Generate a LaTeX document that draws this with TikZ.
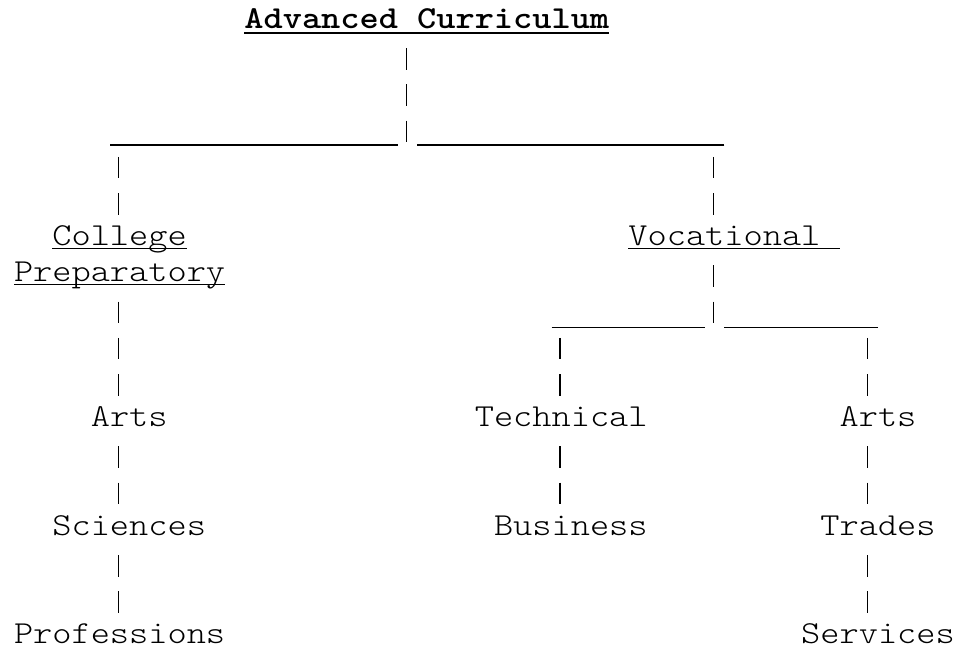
\documentclass[tikz,border=0pt]{standalone}
\usepackage{fontspec}
\newfontfamily\cour[FakeStretch=1.142857]{Latin Modern Mono Light}
\usetikzlibrary{calc}
\newcommand\vlink[3]{\draw[pipe] ($(#1.base -| #3)+(0,-19.7)$) -- ($(#2.base -| #3)+(0,31.2)$);}
\begin{document}
\begin{tikzpicture}[x=1pt,y=1pt,
  lbl/.style={anchor=base west, inner sep=0pt, outer sep=0pt, font=\cour\fontsize{32}{36}\selectfont},
  boldlbl/.style={lbl, font=\cour\bfseries\fontsize{32}{36}\selectfont},
  pipe/.style={line width=1.3pt, dash pattern=on 21.5pt off 14.7pt},
  bar/.style={line width=1.3pt},
  uline/.style={line width=1.3pt},
  buline/.style={line width=2pt}]
\useasboundingbox (0,0) rectangle (959,656);
% pipe columns
\coordinate (c5) at (118.5,0);
\coordinate (c20) at (406.5,0);
\coordinate (c28) at (560.1,0);
\coordinate (c36) at (713.7,0);
\coordinate (c44) at (867.3,0);
% labels
\node[boldlbl] (top) at (244.4,627.4) {Advanced Curriculum};
\node[lbl] (college) at (52.4,410.2) {College};
\node[lbl] (prep) at (14,374.0) {Preparatory};
\node[lbl] (voc) at (628.4,410.2) {Vocational};
\node[lbl] (artsL) at (90.8,229.2) {Arts};
\node[lbl] (tech) at (474.8,229.2) {Technical};
\node[lbl] (artsR) at (839.6,229.2) {Arts};
\node[lbl] (sci) at (52.4,120.6) {Sciences};
\node[lbl] (bus) at (494,120.6) {Business};
\node[lbl] (trades) at (820.4,120.6) {Trades};
\node[lbl] (prof) at (14,12.0) {Professions};
\node[lbl] (serv) at (801.2,12.0) {Services};
% underlines
\draw[buline] ($(top.base west)+(0,-4)$) -- ($(top.base east)+(0,-4)$);
\draw[uline] ($(college.base west)+(0,-2.5)$) -- ($(college.base east)+(0,-2.5)$);
\draw[uline] ($(prep.base west)+(0,-2.5)$) -- ($(prep.base east)+(0,-2.5)$);
\draw[uline] ($(voc.base west)+(0,-2.5)$) -- ++(211.2,0);
% horizontal bars
\coordinate (barAL) at (110,511);
\coordinate (barAR) at (724.4,511);
\coordinate (barBL) at (551.6,328.3);
\coordinate (barBR) at (878.0,328.3);
\draw[bar] (barAL) -- ++(288,0);
\draw[bar] (barAR) -- ++(-307.2,0);
\draw[bar] (barBL) -- ++(153.6,0);
\draw[bar] (barBR) -- ++(-153.6,0);
% vertical connectors
\draw[pipe] ($(top.base -| c20)+(0,-19.7)$) -- ($(barAL -| c20)+(0,2.8)$);
\draw[pipe] ($(barAL -| c5)+(0,-11.9)$) -- ($(college.base -| c5)+(0,31.2)$);
\draw[pipe] ($(barAR -| c36)+(0,-11.9)$) -- ($(voc.base -| c36)+(0,31.2)$);
\draw[pipe] ($(voc.base -| c36)+(0,-19.7)$) -- ($(barBL -| c36)+(0,4.5)$);
\draw[pipe] ($(barBL -| c28)+(0,-10.2)$) -- ($(tech.base -| c28)+(0,31.2)$);
\draw[pipe] ($(barBR -| c44)+(0,-10.2)$) -- ($(artsR.base -| c44)+(0,31.2)$);
\vlink{prep}{artsL}{c5}
\vlink{artsL}{sci}{c5}
\vlink{sci}{prof}{c5}
\vlink{tech}{bus}{c28}
\vlink{artsR}{trades}{c44}
\vlink{trades}{serv}{c44}
\end{tikzpicture}
\end{document}
